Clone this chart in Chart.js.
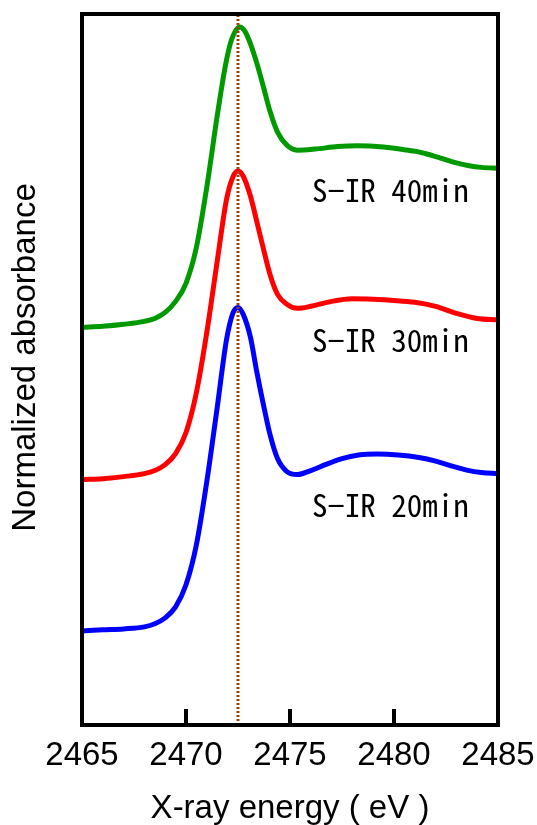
<!DOCTYPE html>
<html>
<head>
<meta charset="utf-8">
<script src="https://cdn.jsdelivr.net/npm/chart.js@4"></script>
<style>
  html, body { margin: 0; padding: 0; background: #ffffff; }
  #wrap { width: 537px; height: 825px; position: relative; }
</style>
</head>
<body>
<div id="wrap"><canvas id="c" width="537" height="825"></canvas></div>
<script>
// ---- data ----
const xTicks = [2465, 2470, 2475, 2480, 2485];
const peakEnergy = 2472.5;
const seriesNames = ["S\u2212IR 20min", "S\u2212IR 30min", "S\u2212IR 40min"];

const blueX = [2465.0, 2466.0, 2467.0, 2468.0, 2468.5, 2469.0, 2469.5, 2470.0, 2470.5, 2471.0, 2471.5, 2471.95, 2472.25, 2472.5, 2472.75, 2473.1, 2473.4, 2473.75, 2474.05, 2474.4, 2474.85, 2475.35, 2476.0, 2476.7, 2477.5, 2478.3, 2479.2, 2480.2, 2481.2, 2482.0, 2482.8, 2483.5, 2484.2, 2485.0];
const blueY = [0.606, 0.613, 0.619, 0.632, 0.652, 0.690, 0.761, 0.903, 1.161, 1.568, 2.045, 2.484, 2.652, 2.690, 2.645, 2.497, 2.277, 2.045, 1.865, 1.716, 1.632, 1.613, 1.639, 1.677, 1.716, 1.739, 1.745, 1.739, 1.723, 1.700, 1.668, 1.642, 1.626, 1.619];

const redX = [2465.0, 2466.0, 2467.0, 2468.0, 2468.5, 2469.0, 2469.5, 2470.0, 2470.5, 2471.0, 2471.5, 2471.95, 2472.25, 2472.5, 2472.75, 2473.1, 2473.4, 2473.75, 2474.05, 2474.4, 2474.85, 2475.35, 2476.0, 2477.0, 2478.0, 2479.0, 2480.0, 2481.0, 2482.0, 2483.0, 2484.0, 2485.0];
const redY = [1.581, 1.587, 1.600, 1.619, 1.639, 1.677, 1.748, 1.884, 2.142, 2.529, 2.987, 3.387, 3.529, 3.568, 3.535, 3.406, 3.245, 3.052, 2.897, 2.774, 2.710, 2.684, 2.697, 2.729, 2.745, 2.742, 2.735, 2.723, 2.697, 2.652, 2.619, 2.610];

const greenX = [2465.0, 2466.0, 2467.0, 2468.0, 2468.5, 2469.0, 2469.5, 2470.0, 2470.5, 2471.0, 2471.5, 2471.9, 2472.2, 2472.6, 2472.85, 2473.1, 2473.4, 2473.75, 2474.05, 2474.4, 2474.85, 2475.35, 2476.2, 2477.3, 2478.25, 2479.5, 2480.5, 2481.3, 2482.1, 2482.9, 2483.6, 2484.2, 2485.0];
const greenY = [2.561, 2.568, 2.581, 2.600, 2.619, 2.658, 2.729, 2.845, 3.077, 3.465, 3.923, 4.252, 4.419, 4.497, 4.465, 4.387, 4.265, 4.097, 3.948, 3.819, 3.735, 3.703, 3.710, 3.726, 3.731, 3.723, 3.706, 3.688, 3.658, 3.624, 3.603, 3.592, 3.587];

// label anchor points (data coordinates) for the series names
const labelX = [2476.06, 2476.06, 2476.06];
const labelY = [1.342, 2.400, 3.368];

const yMin = 0, yMax = 4.58;

// ---- build ----
const pts = (xs, ys) => xs.map((x, i) => ({ x: x, y: ys[i] }));

const frameAndLabels = {
  id: 'frameAndLabels',
  afterDatasetsDraw(chart) {
    const ctx = chart.ctx;
    const a = chart.chartArea;
    const xs = chart.scales.x, ys = chart.scales.y;
    ctx.save();
    // inward tick marks
    ctx.strokeStyle = '#000';
    ctx.lineWidth = 4;
    ctx.beginPath();
    xTicks.forEach(v => {
      if (v === xs.min || v === xs.max) return;
      const px = Math.round(xs.getPixelForValue(v));
      ctx.moveTo(px, a.bottom);
      ctx.lineTo(px, a.bottom - 16);
    });
    ctx.stroke();
    // frame
    ctx.lineWidth = 4;
    ctx.lineJoin = 'miter';
    ctx.strokeRect(a.left, a.top, a.right - a.left, a.bottom - a.top);
    // series labels
    ctx.fillStyle = '#000';
    ctx.font = '31px "Noto Sans Mono CJK JP", "Noto Sans CJK JP", sans-serif';
    ctx.textAlign = 'left';
    ctx.textBaseline = 'alphabetic';
    seriesNames.forEach((t, i) => {
      ctx.fillText(t, xs.getPixelForValue(labelX[i]), ys.getPixelForValue(labelY[i]));
    });
    // y axis title
    ctx.font = '33px "Liberation Sans", Arial, sans-serif';
    ctx.textAlign = 'center';
    ctx.textBaseline = 'middle';
    ctx.translate(26, 357.5);
    ctx.rotate(-Math.PI / 2);
    ctx.fillText('Normalized absorbance', 0, 0);
    ctx.restore();
  }
};

new Chart(document.getElementById('c'), {
  type: 'line',
  data: {
    datasets: [
      {
        label: 'peak',
        data: [{ x: peakEnergy, y: yMin }, { x: peakEnergy, y: yMax }],
        borderColor: '#A0400C',
        borderWidth: 3,
        borderDash: [2, 2],
        pointRadius: 0,
        order: 0
      },
      {
        label: seriesNames[0],
        data: pts(blueX, blueY),
        borderColor: '#0000FF',
        borderWidth: 5,
        pointRadius: 0,
        cubicInterpolationMode: 'monotone',
        order: 1
      },
      {
        label: seriesNames[1],
        data: pts(redX, redY),
        borderColor: '#FF0000',
        borderWidth: 5,
        pointRadius: 0,
        cubicInterpolationMode: 'monotone',
        order: 1
      },
      {
        label: seriesNames[2],
        data: pts(greenX, greenY),
        borderColor: '#009900',
        borderWidth: 5,
        pointRadius: 0,
        cubicInterpolationMode: 'monotone',
        order: 1
      }
    ]
  },
  options: {
    responsive: false,
    animation: false,
    devicePixelRatio: 1,
    layout: { padding: { top: 14, right: 39, left: 82, bottom: 0 } },
    plugins: { legend: { display: false }, tooltip: { enabled: false } },
    scales: {
      x: {
        type: 'linear',
        min: 2465,
        max: 2485,
        afterBuildTicks(s) { s.ticks = xTicks.map(v => ({ value: v })); },
        afterFit(s) { s.height = 100; s.paddingLeft = 0; s.paddingRight = 0; },
        grid: { display: false, drawTicks: false },
        border: { display: false },
        ticks: {
          color: '#000',
          padding: 11,
          maxRotation: 0,
          autoSkip: false,
          callback: (v) => String(v),
          font: { family: '"Liberation Sans", Arial, sans-serif', size: 33 }
        },
        title: {
          display: true,
          text: 'X-ray energy ( eV )',
          color: '#000',
          padding: 0,
          font: { family: '"Liberation Sans", Arial, sans-serif', size: 33, lineHeight: 1.0 }
        }
      },
      y: {
        type: 'linear',
        display: false,
        min: yMin,
        max: yMax
      }
    }
  },
  plugins: [frameAndLabels]
});
</script>
</body>
</html>
